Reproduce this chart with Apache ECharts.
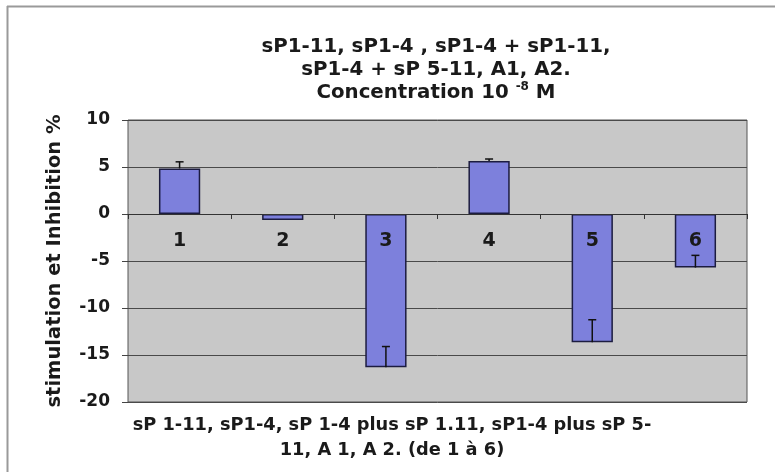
<!DOCTYPE html>
<html>
<head>
<meta charset="utf-8">
<script src="https://cdn.jsdelivr.net/npm/echarts@6/dist/echarts.min.js"></script>
<style>html,body{margin:0;padding:0;background:#fff}#c{width:775px;height:472px}</style>
</head>
<body>
<div id="c"></div>
<script>
var categories = ['1', '2', '3', '4', '5', '6'];
var values = [4.85, -0.65, -16.3, 5.65, -13.65, -5.7];
var errors = [0.7, 0, 2.2, 0.2, 2.4, 1.3];
var yTicks = { min: -20, max: 10, interval: 5 };

var errData = values.map(function (v, i) { return [i, v, v + errors[i]]; });
var labelData = categories.map(function (c, i) { return [i, 0, c]; });

var FONT = "'DejaVu Sans', Verdana, sans-serif";

var chart = echarts.init(document.getElementById('c'), null, { renderer: 'canvas' });
chart.setOption({
  animation: false,
  backgroundColor: '#ffffff',
  title: [{
    text: 'sP1-11, sP1-4 , sP1-4 + sP1-11,\nsP1-4 + sP 5-11, A1, A2.\nConcentration 10 {sup|-8} M',
    left: 431, top: 30, textAlign: 'center',
    textStyle: {
      fontFamily: FONT, fontWeight: 'bold', fontSize: 19.8, color: '#1a1a1a', lineHeight: 23,
      rich: { sup: { fontFamily: FONT, fontWeight: 'bold', fontSize: 12, color: '#1a1a1a', lineHeight: 12, verticalAlign: 'top' } }
    }
  }, {
    text: 'sP 1-11, sP1-4, sP 1-4 plus sP 1.11, sP1-4 plus sP 5-\n11, A 1, A 2. (de 1 à 6)',
    left: 387, top: 408, textAlign: 'center',
    textStyle: { fontFamily: FONT, fontWeight: 'bold', fontSize: 17.8, color: '#1a1a1a', lineHeight: 25 }
  }],
  graphic: [
    { type: 'line', shape: { x1: 7, y1: 6.5, x2: 775, y2: 6.5 }, style: { stroke: '#9a9a9a', lineWidth: 2 } },
    { type: 'line', shape: { x1: 7.5, y1: 6, x2: 7.5, y2: 472 }, style: { stroke: '#9a9a9a', lineWidth: 2 } }
  ],
  grid: {
    left: 128, right: 28, top: 120, bottom: 70, show: true,
    backgroundColor: '#c8c8c8', borderColor: '#555', borderWidth: 1
  },
  xAxis: {
    type: 'category', data: categories, z: 10,
    axisLine: { onZero: true, lineStyle: { color: '#333', width: 1 } },
    axisTick: { show: true, length: 5, lineStyle: { color: '#333' } },
    axisLabel: { show: false },
    splitLine: { show: false }
  },
  yAxis: {
    type: 'value', min: yTicks.min, max: yTicks.max, interval: yTicks.interval,
    name: 'stimulation et Inhibition %', nameLocation: 'middle', nameGap: 63, nameMoveOverlap: false,
    nameTextStyle: { fontFamily: FONT, fontWeight: 'bold', fontSize: 19.5, color: '#1a1a1a' },
    axisLine: { show: false },
    axisTick: { show: true, length: 6, lineStyle: { color: '#444' } },
    axisLabel: { margin: 18, fontFamily: FONT, fontWeight: 'bold', fontSize: 17, color: '#1a1a1a' },
    splitLine: { lineStyle: { color: '#4a4a4a', width: 1 } }
  },
  series: [{
    type: 'bar', data: values, barWidth: '40%',
    itemStyle: { color: '#7d80dc', borderColor: '#1c1c40', borderWidth: 1.5 }
  }, {
    type: 'custom', data: errData, z: 5,
    renderItem: function (params, api) {
      if (api.value(2) === api.value(1)) { return null; }
      var x = api.value(0);
      var p0 = api.coord([x, api.value(1)]);
      var p1 = api.coord([x, api.value(2)]);
      var hw = 4;
      return {
        type: 'group',
        children: [
          { type: 'line', shape: { x1: p0[0], y1: p0[1], x2: p1[0], y2: p1[1] }, style: { stroke: '#111', lineWidth: 1.5 } },
          { type: 'line', shape: { x1: p1[0] - hw, y1: p1[1], x2: p1[0] + hw, y2: p1[1] }, style: { stroke: '#111', lineWidth: 1.5 } }
        ]
      };
    }
  }, {
    type: 'custom', data: labelData, z: 12,
    renderItem: function (params, api) {
      var p = api.coord([api.value(0), api.value(1)]);
      return {
        type: 'text',
        style: {
          x: p[0], y: p[1] + 27, text: categories[params.dataIndex],
          fontFamily: FONT, fontWeight: 'bold', fontSize: 19, fill: '#1a1a1a',
          align: 'center', verticalAlign: 'middle'
        }
      };
    }
  }]
});
</script>
</body>
</html>
